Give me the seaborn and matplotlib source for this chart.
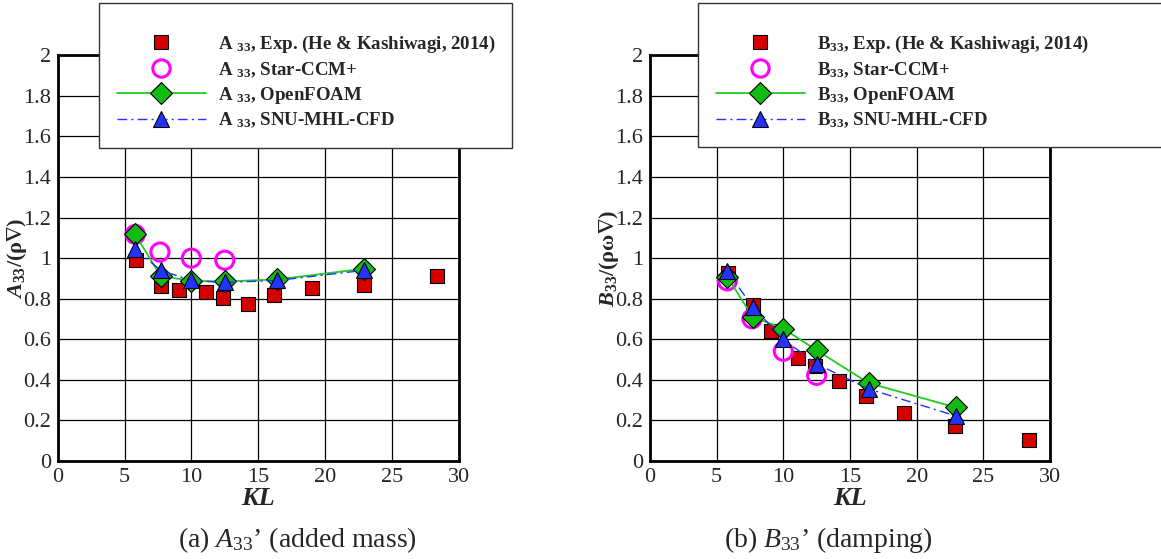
import matplotlib
matplotlib.use("Agg")
import matplotlib.pyplot as plt
import pandas as pd
import seaborn as sns
from matplotlib.lines import Line2D
from matplotlib.patches import Rectangle
from matplotlib.ticker import MultipleLocator, FuncFormatter

# ---- data ----
exp_kl = [5.85, 7.7, 9.05, 11.1, 12.4, 14.2, 16.2, 19.05, 22.9, 28.4]
exp_a33 = [0.99, 0.863, 0.842, 0.833, 0.805, 0.772, 0.82, 0.855, 0.87, 0.912]
exp_b33 = [0.926, 0.769, 0.64, 0.508, 0.467, 0.393, 0.318, 0.236, 0.173, 0.104]

star_kl = [5.8, 7.65, 10.0, 12.5]
star_a33 = [1.117, 1.03, 1.0, 0.99]
star_b33 = [0.888, 0.701, 0.541, 0.422]

foam_kl = [5.8, 7.7, 10.0, 12.5, 16.4, 22.95]
foam_a33 = [1.117, 0.912, 0.888, 0.885, 0.895, 0.948]
foam_b33 = [0.908, 0.71, 0.653, 0.546, 0.384, 0.264]

snu_kl = [5.8, 7.7, 10.0, 12.5, 16.4, 22.95]
snu_a33 = [1.045, 0.94, 0.89, 0.88, 0.89, 0.94]
snu_b33 = [0.935, 0.76, 0.6, 0.478, 0.355, 0.222]

series_names = ["Exp. (He & Kashiwagi, 2014)", "Star-CCM+", "OpenFOAM", "SNU-MHL-CFD"]

RED = "#d40000"
MAGENTA = "#ff00ff"
GREEN = "#22cc22"
GREEN_MK = "#11bb11"
BLUE = "#2233ff"
W, H = 1161, 559


def _fmt(v, _pos):
    s = f"{v:.1f}"
    return s.rstrip("0").rstrip(".") if "." in s else s


def _draw_panel(ax, exp_y, star_y, foam_y, snu_y, ylabel):
    exp_df = pd.DataFrame({"KL": exp_kl, "val": exp_y})
    star_df = pd.DataFrame({"KL": star_kl, "val": star_y})
    foam_df = pd.DataFrame({"KL": foam_kl, "val": foam_y})
    snu_df = pd.DataFrame({"KL": snu_kl, "val": snu_y})

    ax.grid(True, color="black", linewidth=0.9, zorder=0)
    ax.set_axisbelow(True)

    sns.scatterplot(data=exp_df, x="KL", y="val", marker="s", s=110, color=RED,
                    edgecolor="black", linewidth=0.8, ax=ax, zorder=3)
    sns.scatterplot(data=star_df, x="KL", y="val", marker="o", s=170, facecolor="none",
                    edgecolor=MAGENTA, linewidth=2.2, ax=ax, zorder=4)
    sns.lineplot(data=foam_df, x="KL", y="val", color=GREEN, linewidth=1.3, sort=False,
                 marker="D", markersize=11, markerfacecolor=GREEN_MK, markeredgecolor="black",
                 markeredgewidth=0.8, ax=ax, zorder=5)
    sns.lineplot(data=snu_df, x="KL", y="val", color=BLUE, linewidth=1.0, sort=False,
                 linestyle=(0, (7, 3, 1.5, 3)), marker="^", markersize=11,
                 markerfacecolor=BLUE, markeredgecolor="black", markeredgewidth=0.8,
                 ax=ax, zorder=6)

    ax.set_xlim(0, 30)
    ax.set_ylim(0, 2)
    ax.xaxis.set_major_locator(MultipleLocator(5))
    ax.xaxis.set_minor_locator(MultipleLocator(1))
    ax.yaxis.set_major_locator(MultipleLocator(0.2))
    ax.yaxis.set_minor_locator(MultipleLocator(0.05))
    ax.yaxis.set_major_formatter(FuncFormatter(_fmt))
    ax.tick_params(which="major", direction="in", length=8, width=1.6, labelsize=16,
                   pad=5, top=False, right=False)
    ax.tick_params(which="minor", direction="in", length=4.5, width=1.0,
                   top=False, right=False)
    for sp in ax.spines.values():
        sp.set_visible(True)
        sp.set_linewidth(2.0)
        sp.set_color("black")
    ax.set_xlabel("KL", fontsize=19, fontweight="bold", fontstyle="italic", labelpad=0)
    ax.set_ylabel(ylabel, fontsize=16, fontweight="bold")
    pos = ax.get_position()
    ax.yaxis.set_label_coords(-29 / (pos.width * W), 0.5)
    legend = ax.get_legend()
    if legend is not None:
        legend.remove()


def _add_legend(fig, prefix, box_px, anchor_px):
    x0, y0, x1, y1 = box_px
    rect = Rectangle((x0 / W, 1 - y1 / H), (x1 - x0) / W, (y1 - y0) / H,
                     transform=fig.transFigure, facecolor="white", edgecolor="#333333",
                     linewidth=1.0, zorder=2)
    fig.patches.append(rect)
    handles = [
        Line2D([], [], linestyle="none", marker="s", markersize=10, markerfacecolor=RED,
               markeredgecolor="black", markeredgewidth=0.8),
        Line2D([], [], linestyle="none", marker="o", markersize=12.5, markerfacecolor="none",
               markeredgecolor=MAGENTA, markeredgewidth=2.2),
        Line2D([], [], color=GREEN, linewidth=1.3, marker="D", markersize=11,
               markerfacecolor=GREEN_MK, markeredgecolor="black", markeredgewidth=0.8),
        Line2D([], [], color=BLUE, linewidth=1.0, linestyle=(0, (7, 3, 1.5, 3)), marker="^",
               markersize=11, markerfacecolor=BLUE, markeredgecolor="black",
               markeredgewidth=0.8),
    ]
    labels = [f"{prefix}, {n}" for n in series_names]
    leg = fig.legend(handles, labels, loc="upper left",
                     bbox_to_anchor=(anchor_px[0] / W, 1 - anchor_px[1] / H),
                     bbox_transform=fig.transFigure, frameon=False, borderpad=0,
                     borderaxespad=0, handlelength=4.7, handletextpad=0.65,
                     labelspacing=0.27,
                     prop={"family": ["Liberation Serif", "DejaVu Serif"],
                           "weight": "bold", "size": 13.6})
    leg.set_zorder(3)


sns.set_theme(style="white")
plt.rcParams["font.family"] = ["Liberation Serif", "DejaVu Serif"]
plt.rcParams["mathtext.fontset"] = "custom"
plt.rcParams["mathtext.rm"] = "Liberation Serif"
plt.rcParams["mathtext.it"] = "Liberation Serif:italic"
plt.rcParams["mathtext.bf"] = "Liberation Serif:bold"
plt.rcParams["mathtext.bfit"] = "Liberation Serif:bold:italic"
plt.rcParams["mathtext.fallback"] = "stix"

fig = plt.figure(figsize=(11.61, 5.59), dpi=100)
ax1 = fig.add_axes([57.7 / W, 1 - 461 / H, 401 / W, 405.7 / H])
ax2 = fig.add_axes([650 / W, 1 - 461 / H, 400 / W, 405.7 / H])

_draw_panel(ax1, exp_a33, star_a33, foam_a33, snu_a33,
            r"$\mathbfit{A}_{\mathbf{33}}\mathbf{/(\rho\nabla)}$")
_draw_panel(ax2, exp_b33, star_b33, foam_b33, snu_b33,
            r"$\mathbfit{B}_{\mathbf{33}}\mathbf{/(\rho\omega\nabla)}$")

_add_legend(fig, r"A $_{\mathbf{33}}$", (99, 2.7, 512, 148), (117, 34))
_add_legend(fig, r"B$_{\mathbf{33}}$", (697.7, 2.7, 1175, 147), (716, 34))

fig.text(297 / W, 1 - 540 / H, r"(a) $A_{\mathit{33}}$’ (added mass)", ha="center",
         va="center", fontsize=20)
fig.text(828 / W, 1 - 540 / H, r"(b) $B_{\mathit{33}}$’ (damping)", ha="center",
         va="center", fontsize=20)

fig.savefig("out.png", dpi=100)
